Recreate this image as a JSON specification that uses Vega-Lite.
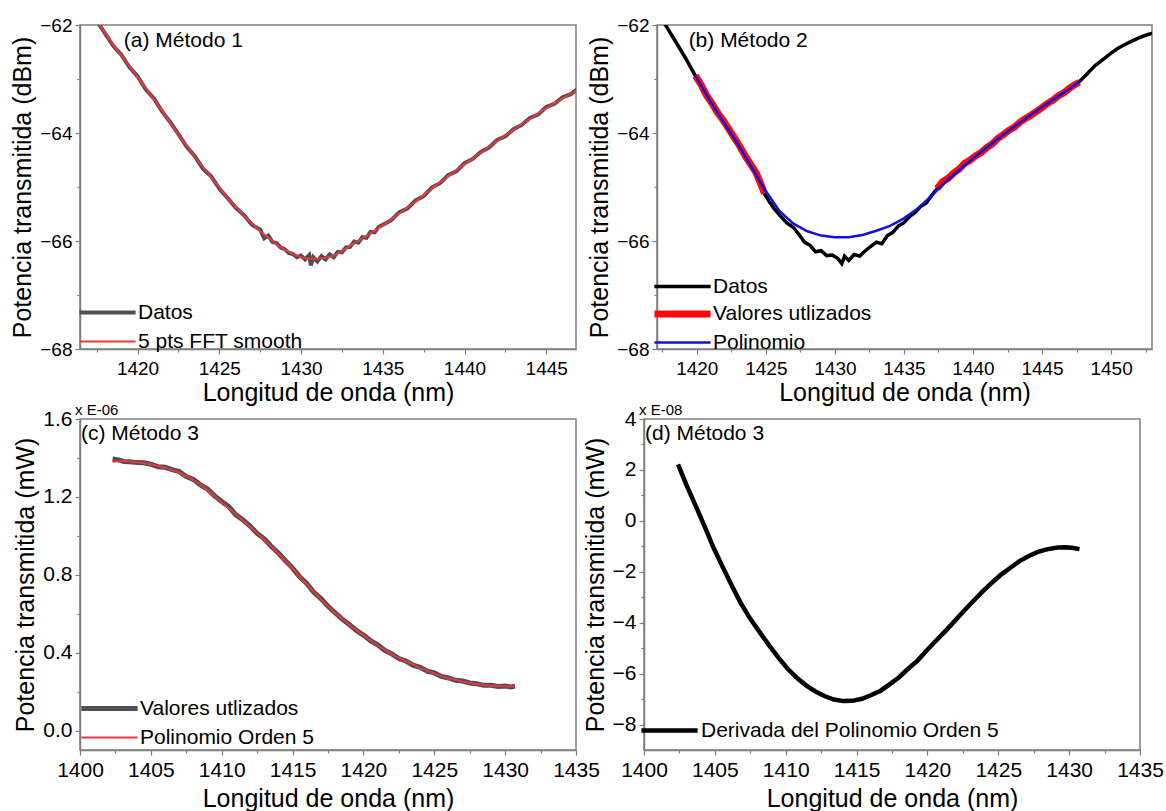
{
  "$schema": "https://vega.github.io/schema/vega-lite/v6.json",
  "padding": {"left": 10, "top": 15, "right": 5, "bottom": 5},
  "config": {
    "font": "Liberation Sans",
    "view": {"stroke": "#7f7f7f", "strokeWidth": 1.5},
    "title": {"font": "Liberation Sans", "fontSize": 15, "fontWeight": "normal", "color": "#000000"},
    "axis": {"grid": false, "domainColor": "#7f7f7f", "domainWidth": 1.5, "tickColor": "#7f7f7f", "tickWidth": 1.2, "labelFont": "Liberation Sans", "titleFont": "Liberation Sans", "titleFontWeight": "normal", "labelColor": "#000000", "titleColor": "#000000", "labelFlush": false, "labelOverlap": false, "titleFontSize": 25},
    "legend": {"labelFont": "Liberation Sans", "labelFontSize": 21, "symbolType": "stroke", "padding": 0, "rowPadding": 7, "labelOffset": 20, "symbolSize": 3160, "labelColor": "#000000", "labelLimit": 600},
    "text": {"font": "Liberation Sans", "fontSize": 21, "color": "#000000"}
  },
  "datasets": {
    "a_dat": [
      {"x":1417.5,"y":-61.92,"s":"Datos"},{"x":1418.0,"y":-62.15,"s":"Datos"},{"x":1418.5,"y":-62.38,"s":"Datos"},{"x":1419.0,"y":-62.55,"s":"Datos"},{"x":1419.5,"y":-62.78,"s":"Datos"},{"x":1420.0,"y":-62.95,"s":"Datos"},{"x":1420.5,"y":-63.19,"s":"Datos"},{"x":1421.0,"y":-63.36,"s":"Datos"},{"x":1421.5,"y":-63.6,"s":"Datos"},{"x":1422.0,"y":-63.8,"s":"Datos"},{"x":1422.5,"y":-64.02,"s":"Datos"},{"x":1423.0,"y":-64.25,"s":"Datos"},{"x":1423.5,"y":-64.43,"s":"Datos"},{"x":1424.0,"y":-64.66,"s":"Datos"},{"x":1424.5,"y":-64.8,"s":"Datos"},{"x":1425.0,"y":-65.03,"s":"Datos"},{"x":1425.5,"y":-65.2,"s":"Datos"},{"x":1426.0,"y":-65.38,"s":"Datos"},{"x":1426.5,"y":-65.52,"s":"Datos"},{"x":1427.0,"y":-65.7,"s":"Datos"},{"x":1427.5,"y":-65.79,"s":"Datos"},{"x":1427.75,"y":-65.95,"s":"Datos"},{"x":1428.0,"y":-65.9,"s":"Datos"},{"x":1428.25,"y":-66.02,"s":"Datos"},{"x":1428.5,"y":-66.04,"s":"Datos"},{"x":1428.75,"y":-66.12,"s":"Datos"},{"x":1429.0,"y":-66.15,"s":"Datos"},{"x":1429.25,"y":-66.22,"s":"Datos"},{"x":1429.5,"y":-66.24,"s":"Datos"},{"x":1429.75,"y":-66.3,"s":"Datos"},{"x":1430.0,"y":-66.27,"s":"Datos"},{"x":1430.25,"y":-66.34,"s":"Datos"},{"x":1430.5,"y":-66.26,"s":"Datos"},{"x":1430.6,"y":-66.45,"s":"Datos"},{"x":1430.75,"y":-66.3,"s":"Datos"},{"x":1431.0,"y":-66.38,"s":"Datos"},{"x":1431.25,"y":-66.28,"s":"Datos"},{"x":1431.5,"y":-66.34,"s":"Datos"},{"x":1431.75,"y":-66.25,"s":"Datos"},{"x":1432.0,"y":-66.3,"s":"Datos"},{"x":1432.25,"y":-66.2,"s":"Datos"},{"x":1432.5,"y":-66.21,"s":"Datos"},{"x":1432.75,"y":-66.12,"s":"Datos"},{"x":1433.0,"y":-66.11,"s":"Datos"},{"x":1433.25,"y":-66.01,"s":"Datos"},{"x":1433.5,"y":-66.03,"s":"Datos"},{"x":1433.75,"y":-65.93,"s":"Datos"},{"x":1434.0,"y":-65.94,"s":"Datos"},{"x":1434.25,"y":-65.83,"s":"Datos"},{"x":1434.5,"y":-65.84,"s":"Datos"},{"x":1434.75,"y":-65.74,"s":"Datos"},{"x":1435.0,"y":-65.7,"s":"Datos"},{"x":1435.5,"y":-65.62,"s":"Datos"},{"x":1436.0,"y":-65.47,"s":"Datos"},{"x":1436.5,"y":-65.4,"s":"Datos"},{"x":1437.0,"y":-65.25,"s":"Datos"},{"x":1437.5,"y":-65.17,"s":"Datos"},{"x":1438.0,"y":-65.01,"s":"Datos"},{"x":1438.5,"y":-64.93,"s":"Datos"},{"x":1439.0,"y":-64.78,"s":"Datos"},{"x":1439.5,"y":-64.71,"s":"Datos"},{"x":1440.0,"y":-64.56,"s":"Datos"},{"x":1440.5,"y":-64.48,"s":"Datos"},{"x":1441.0,"y":-64.35,"s":"Datos"},{"x":1441.5,"y":-64.27,"s":"Datos"},{"x":1442.0,"y":-64.13,"s":"Datos"},{"x":1442.5,"y":-64.06,"s":"Datos"},{"x":1443.0,"y":-63.93,"s":"Datos"},{"x":1443.5,"y":-63.85,"s":"Datos"},{"x":1444.0,"y":-63.72,"s":"Datos"},{"x":1444.5,"y":-63.66,"s":"Datos"},{"x":1445.0,"y":-63.52,"s":"Datos"},{"x":1445.5,"y":-63.46,"s":"Datos"},{"x":1446.0,"y":-63.34,"s":"Datos"},{"x":1446.5,"y":-63.28,"s":"Datos"},{"x":1447.0,"y":-63.17,"s":"Datos"}
    ],
    "a_smo": [
      {"x":1417.5,"y":-61.92,"s":"5 pts FFT smooth"},{"x":1418.5,"y":-62.36,"s":"5 pts FFT smooth"},{"x":1419.5,"y":-62.76,"s":"5 pts FFT smooth"},{"x":1420.5,"y":-63.17,"s":"5 pts FFT smooth"},{"x":1421.5,"y":-63.58,"s":"5 pts FFT smooth"},{"x":1422.5,"y":-64.03,"s":"5 pts FFT smooth"},{"x":1423.5,"y":-64.44,"s":"5 pts FFT smooth"},{"x":1424.5,"y":-64.82,"s":"5 pts FFT smooth"},{"x":1425.5,"y":-65.2,"s":"5 pts FFT smooth"},{"x":1426.5,"y":-65.53,"s":"5 pts FFT smooth"},{"x":1427.5,"y":-65.82,"s":"5 pts FFT smooth"},{"x":1428.5,"y":-66.06,"s":"5 pts FFT smooth"},{"x":1429.0,"y":-66.16,"s":"5 pts FFT smooth"},{"x":1429.5,"y":-66.24,"s":"5 pts FFT smooth"},{"x":1430.0,"y":-66.3,"s":"5 pts FFT smooth"},{"x":1430.5,"y":-66.33,"s":"5 pts FFT smooth"},{"x":1431.0,"y":-66.33,"s":"5 pts FFT smooth"},{"x":1431.5,"y":-66.31,"s":"5 pts FFT smooth"},{"x":1432.0,"y":-66.27,"s":"5 pts FFT smooth"},{"x":1432.5,"y":-66.19,"s":"5 pts FFT smooth"},{"x":1433.0,"y":-66.09,"s":"5 pts FFT smooth"},{"x":1433.5,"y":-66.0,"s":"5 pts FFT smooth"},{"x":1434.0,"y":-65.91,"s":"5 pts FFT smooth"},{"x":1434.5,"y":-65.81,"s":"5 pts FFT smooth"},{"x":1435.0,"y":-65.71,"s":"5 pts FFT smooth"},{"x":1435.5,"y":-65.6,"s":"5 pts FFT smooth"},{"x":1436.0,"y":-65.49,"s":"5 pts FFT smooth"},{"x":1437.0,"y":-65.27,"s":"5 pts FFT smooth"},{"x":1438.0,"y":-65.03,"s":"5 pts FFT smooth"},{"x":1439.0,"y":-64.8,"s":"5 pts FFT smooth"},{"x":1440.0,"y":-64.58,"s":"5 pts FFT smooth"},{"x":1441.0,"y":-64.36,"s":"5 pts FFT smooth"},{"x":1442.0,"y":-64.15,"s":"5 pts FFT smooth"},{"x":1443.0,"y":-63.94,"s":"5 pts FFT smooth"},{"x":1444.0,"y":-63.74,"s":"5 pts FFT smooth"},{"x":1445.0,"y":-63.54,"s":"5 pts FFT smooth"},{"x":1446.0,"y":-63.36,"s":"5 pts FFT smooth"},{"x":1447.0,"y":-63.19,"s":"5 pts FFT smooth"}
    ],
    "b_dat": [
      {"x":1417.5,"y":-61.85,"s":"Datos"},{"x":1417.73,"y":-62.0,"s":"Datos"},{"x":1418.5,"y":-62.32,"s":"Datos"},{"x":1419.2,"y":-62.62,"s":"Datos"},{"x":1419.9,"y":-62.94,"s":"Datos"},{"x":1420.5,"y":-63.18,"s":"Datos"},{"x":1421.0,"y":-63.42,"s":"Datos"},{"x":1421.5,"y":-63.6,"s":"Datos"},{"x":1422.0,"y":-63.8,"s":"Datos"},{"x":1422.5,"y":-63.99,"s":"Datos"},{"x":1423.0,"y":-64.2,"s":"Datos"},{"x":1423.5,"y":-64.4,"s":"Datos"},{"x":1424.0,"y":-64.62,"s":"Datos"},{"x":1424.5,"y":-64.93,"s":"Datos"},{"x":1424.8,"y":-65.08,"s":"Datos"},{"x":1425.2,"y":-65.25,"s":"Datos"},{"x":1425.6,"y":-65.4,"s":"Datos"},{"x":1426.0,"y":-65.52,"s":"Datos"},{"x":1426.5,"y":-65.66,"s":"Datos"},{"x":1427.0,"y":-65.75,"s":"Datos"},{"x":1427.4,"y":-65.88,"s":"Datos"},{"x":1427.8,"y":-66.02,"s":"Datos"},{"x":1428.2,"y":-66.08,"s":"Datos"},{"x":1428.6,"y":-66.2,"s":"Datos"},{"x":1429.0,"y":-66.18,"s":"Datos"},{"x":1429.4,"y":-66.27,"s":"Datos"},{"x":1429.8,"y":-66.26,"s":"Datos"},{"x":1430.2,"y":-66.32,"s":"Datos"},{"x":1430.5,"y":-66.42,"s":"Datos"},{"x":1430.7,"y":-66.28,"s":"Datos"},{"x":1431.0,"y":-66.36,"s":"Datos"},{"x":1431.4,"y":-66.25,"s":"Datos"},{"x":1431.8,"y":-66.28,"s":"Datos"},{"x":1432.2,"y":-66.18,"s":"Datos"},{"x":1432.6,"y":-66.1,"s":"Datos"},{"x":1433.0,"y":-66.02,"s":"Datos"},{"x":1433.4,"y":-66.05,"s":"Datos"},{"x":1433.8,"y":-65.9,"s":"Datos"},{"x":1434.2,"y":-65.84,"s":"Datos"},{"x":1434.6,"y":-65.72,"s":"Datos"},{"x":1435.0,"y":-65.66,"s":"Datos"},{"x":1435.4,"y":-65.55,"s":"Datos"},{"x":1435.8,"y":-65.47,"s":"Datos"},{"x":1436.2,"y":-65.36,"s":"Datos"},{"x":1436.6,"y":-65.3,"s":"Datos"},{"x":1437.0,"y":-65.16,"s":"Datos"},{"x":1437.4,"y":-65.03,"s":"Datos"},{"x":1438.0,"y":-64.9,"s":"Datos"},{"x":1438.5,"y":-64.8,"s":"Datos"},{"x":1439.0,"y":-64.68,"s":"Datos"},{"x":1439.5,"y":-64.56,"s":"Datos"},{"x":1440.0,"y":-64.46,"s":"Datos"},{"x":1440.5,"y":-64.38,"s":"Datos"},{"x":1441.0,"y":-64.27,"s":"Datos"},{"x":1441.5,"y":-64.18,"s":"Datos"},{"x":1442.0,"y":-64.07,"s":"Datos"},{"x":1442.5,"y":-63.97,"s":"Datos"},{"x":1443.0,"y":-63.88,"s":"Datos"},{"x":1443.5,"y":-63.78,"s":"Datos"},{"x":1444.0,"y":-63.7,"s":"Datos"},{"x":1444.5,"y":-63.62,"s":"Datos"},{"x":1445.0,"y":-63.53,"s":"Datos"},{"x":1445.5,"y":-63.44,"s":"Datos"},{"x":1446.0,"y":-63.36,"s":"Datos"},{"x":1446.5,"y":-63.27,"s":"Datos"},{"x":1447.0,"y":-63.18,"s":"Datos"},{"x":1447.7,"y":-63.05,"s":"Datos"},{"x":1448.2,"y":-62.92,"s":"Datos"},{"x":1448.8,"y":-62.76,"s":"Datos"},{"x":1449.4,"y":-62.64,"s":"Datos"},{"x":1450.0,"y":-62.52,"s":"Datos"},{"x":1450.5,"y":-62.43,"s":"Datos"},{"x":1451.0,"y":-62.36,"s":"Datos"},{"x":1451.5,"y":-62.3,"s":"Datos"},{"x":1452.0,"y":-62.24,"s":"Datos"},{"x":1452.5,"y":-62.19,"s":"Datos"},{"x":1453.0,"y":-62.15,"s":"Datos"}
    ],
    "b_val": [
      {"x":1419.9,"y":-62.94,"s":"Valores utlizados","g":1},{"x":1420.3,"y":-63.1,"s":"Valores utlizados","g":1},{"x":1420.7,"y":-63.3,"s":"Valores utlizados","g":1},{"x":1421.1,"y":-63.45,"s":"Valores utlizados","g":1},{"x":1421.5,"y":-63.62,"s":"Valores utlizados","g":1},{"x":1421.9,"y":-63.76,"s":"Valores utlizados","g":1},{"x":1422.3,"y":-63.92,"s":"Valores utlizados","g":1},{"x":1422.7,"y":-64.08,"s":"Valores utlizados","g":1},{"x":1423.1,"y":-64.24,"s":"Valores utlizados","g":1},{"x":1423.5,"y":-64.42,"s":"Valores utlizados","g":1},{"x":1423.9,"y":-64.58,"s":"Valores utlizados","g":1},{"x":1424.3,"y":-64.74,"s":"Valores utlizados","g":1},{"x":1424.6,"y":-64.92,"s":"Valores utlizados","g":1},{"x":1424.9,"y":-65.12,"s":"Valores utlizados","g":1},
      {"x":1437.4,"y":-65.03,"s":"Valores utlizados","g":2},{"x":1437.8,"y":-64.9,"s":"Valores utlizados","g":2},{"x":1438.2,"y":-64.84,"s":"Valores utlizados","g":2},{"x":1438.6,"y":-64.74,"s":"Valores utlizados","g":2},{"x":1439.0,"y":-64.67,"s":"Valores utlizados","g":2},{"x":1439.4,"y":-64.56,"s":"Valores utlizados","g":2},{"x":1439.8,"y":-64.5,"s":"Valores utlizados","g":2},{"x":1440.2,"y":-64.42,"s":"Valores utlizados","g":2},{"x":1440.6,"y":-64.36,"s":"Valores utlizados","g":2},{"x":1441.0,"y":-64.27,"s":"Valores utlizados","g":2},{"x":1441.4,"y":-64.2,"s":"Valores utlizados","g":2},{"x":1441.8,"y":-64.1,"s":"Valores utlizados","g":2},{"x":1442.2,"y":-64.03,"s":"Valores utlizados","g":2},{"x":1442.6,"y":-63.95,"s":"Valores utlizados","g":2},{"x":1443.0,"y":-63.89,"s":"Valores utlizados","g":2},{"x":1443.4,"y":-63.8,"s":"Valores utlizados","g":2},{"x":1443.8,"y":-63.73,"s":"Valores utlizados","g":2},{"x":1444.2,"y":-63.67,"s":"Valores utlizados","g":2},{"x":1444.6,"y":-63.6,"s":"Valores utlizados","g":2},{"x":1445.0,"y":-63.53,"s":"Valores utlizados","g":2},{"x":1445.4,"y":-63.45,"s":"Valores utlizados","g":2},{"x":1445.8,"y":-63.39,"s":"Valores utlizados","g":2},{"x":1446.2,"y":-63.31,"s":"Valores utlizados","g":2},{"x":1446.6,"y":-63.25,"s":"Valores utlizados","g":2},{"x":1447.0,"y":-63.17,"s":"Valores utlizados","g":2},{"x":1447.4,"y":-63.1,"s":"Valores utlizados","g":2},{"x":1447.7,"y":-63.06,"s":"Valores utlizados","g":2}
    ],
    "b_pol": [
      {"x":1419.9,"y":-62.94,"s":"Polinomio"},{"x":1421,"y":-63.42,"s":"Polinomio"},{"x":1422,"y":-63.82,"s":"Polinomio"},{"x":1423,"y":-64.22,"s":"Polinomio"},{"x":1424,"y":-64.64,"s":"Polinomio"},{"x":1425,"y":-65.08,"s":"Polinomio"},{"x":1426,"y":-65.45,"s":"Polinomio"},{"x":1427,"y":-65.68,"s":"Polinomio"},{"x":1428,"y":-65.82,"s":"Polinomio"},{"x":1429,"y":-65.9,"s":"Polinomio"},{"x":1430,"y":-65.93,"s":"Polinomio"},{"x":1431,"y":-65.93,"s":"Polinomio"},{"x":1432,"y":-65.89,"s":"Polinomio"},{"x":1433,"y":-65.81,"s":"Polinomio"},{"x":1434,"y":-65.72,"s":"Polinomio"},{"x":1435,"y":-65.58,"s":"Polinomio"},{"x":1436,"y":-65.4,"s":"Polinomio"},{"x":1437,"y":-65.16,"s":"Polinomio"},{"x":1438,"y":-64.91,"s":"Polinomio"},{"x":1439,"y":-64.69,"s":"Polinomio"},{"x":1440,"y":-64.47,"s":"Polinomio"},{"x":1441,"y":-64.27,"s":"Polinomio"},{"x":1442,"y":-64.07,"s":"Polinomio"},{"x":1443,"y":-63.88,"s":"Polinomio"},{"x":1444,"y":-63.7,"s":"Polinomio"},{"x":1445,"y":-63.52,"s":"Polinomio"},{"x":1446,"y":-63.35,"s":"Polinomio"},{"x":1447,"y":-63.18,"s":"Polinomio"},{"x":1447.7,"y":-63.05,"s":"Polinomio"}
    ],
    "c_val": [
      {"x":1402.3,"y":1.395,"s":"Valores utlizados"},{"x":1402.7,"y":1.39,"s":"Valores utlizados"},{"x":1403.1,"y":1.382,"s":"Valores utlizados"},{"x":1403.5,"y":1.38,"s":"Valores utlizados"},{"x":1404.0,"y":1.376,"s":"Valores utlizados"},{"x":1404.5,"y":1.375,"s":"Valores utlizados"},{"x":1405.0,"y":1.368,"s":"Valores utlizados"},{"x":1405.5,"y":1.355,"s":"Valores utlizados"},{"x":1406.0,"y":1.352,"s":"Valores utlizados"},{"x":1406.5,"y":1.34,"s":"Valores utlizados"},{"x":1407.0,"y":1.33,"s":"Valores utlizados"},{"x":1407.5,"y":1.305,"s":"Valores utlizados"},{"x":1408.0,"y":1.29,"s":"Valores utlizados"},{"x":1408.5,"y":1.262,"s":"Valores utlizados"},{"x":1409.0,"y":1.24,"s":"Valores utlizados"},{"x":1409.5,"y":1.205,"s":"Valores utlizados"},{"x":1410.0,"y":1.176,"s":"Valores utlizados"},{"x":1410.5,"y":1.15,"s":"Valores utlizados"},{"x":1411.0,"y":1.108,"s":"Valores utlizados"},{"x":1411.5,"y":1.082,"s":"Valores utlizados"},{"x":1412.0,"y":1.05,"s":"Valores utlizados"},{"x":1412.5,"y":1.012,"s":"Valores utlizados"},{"x":1413.0,"y":0.985,"s":"Valores utlizados"},{"x":1413.5,"y":0.945,"s":"Valores utlizados"},{"x":1414.0,"y":0.912,"s":"Valores utlizados"},{"x":1414.5,"y":0.872,"s":"Valores utlizados"},{"x":1415.0,"y":0.834,"s":"Valores utlizados"},{"x":1415.5,"y":0.79,"s":"Valores utlizados"},{"x":1416.0,"y":0.755,"s":"Valores utlizados"},{"x":1416.5,"y":0.71,"s":"Valores utlizados"},{"x":1417.0,"y":0.678,"s":"Valores utlizados"},{"x":1417.5,"y":0.638,"s":"Valores utlizados"},{"x":1418.0,"y":0.605,"s":"Valores utlizados"},{"x":1418.5,"y":0.572,"s":"Valores utlizados"},{"x":1419.0,"y":0.545,"s":"Valores utlizados"},{"x":1419.5,"y":0.514,"s":"Valores utlizados"},{"x":1420.0,"y":0.49,"s":"Valores utlizados"},{"x":1420.5,"y":0.462,"s":"Valores utlizados"},{"x":1421.0,"y":0.44,"s":"Valores utlizados"},{"x":1421.5,"y":0.412,"s":"Valores utlizados"},{"x":1422.0,"y":0.394,"s":"Valores utlizados"},{"x":1422.5,"y":0.37,"s":"Valores utlizados"},{"x":1423.0,"y":0.357,"s":"Valores utlizados"},{"x":1423.5,"y":0.336,"s":"Valores utlizados"},{"x":1424.0,"y":0.325,"s":"Valores utlizados"},{"x":1424.5,"y":0.305,"s":"Valores utlizados"},{"x":1425.0,"y":0.296,"s":"Valores utlizados"},{"x":1425.5,"y":0.278,"s":"Valores utlizados"},{"x":1426.0,"y":0.27,"s":"Valores utlizados"},{"x":1426.5,"y":0.258,"s":"Valores utlizados"},{"x":1427.0,"y":0.254,"s":"Valores utlizados"},{"x":1427.5,"y":0.244,"s":"Valores utlizados"},{"x":1428.0,"y":0.24,"s":"Valores utlizados"},{"x":1428.5,"y":0.232,"s":"Valores utlizados"},{"x":1429.0,"y":0.232,"s":"Valores utlizados"},{"x":1429.5,"y":0.226,"s":"Valores utlizados"},{"x":1430.0,"y":0.229,"s":"Valores utlizados"},{"x":1430.4,"y":0.224,"s":"Valores utlizados"},{"x":1430.7,"y":0.228,"s":"Valores utlizados"}
    ],
    "c_pol": [
      {"x":1402.3,"y":1.38,"s":"Polinomio Orden 5"},{"x":1403.0,"y":1.385,"s":"Polinomio Orden 5"},{"x":1404.0,"y":1.378,"s":"Polinomio Orden 5"},{"x":1405.0,"y":1.368,"s":"Polinomio Orden 5"},{"x":1406.0,"y":1.35,"s":"Polinomio Orden 5"},{"x":1407.0,"y":1.325,"s":"Polinomio Orden 5"},{"x":1408.0,"y":1.288,"s":"Polinomio Orden 5"},{"x":1409.0,"y":1.236,"s":"Polinomio Orden 5"},{"x":1410.0,"y":1.173,"s":"Polinomio Orden 5"},{"x":1411.0,"y":1.111,"s":"Polinomio Orden 5"},{"x":1412.0,"y":1.047,"s":"Polinomio Orden 5"},{"x":1413.0,"y":0.981,"s":"Polinomio Orden 5"},{"x":1414.0,"y":0.909,"s":"Polinomio Orden 5"},{"x":1415.0,"y":0.831,"s":"Polinomio Orden 5"},{"x":1416.0,"y":0.752,"s":"Polinomio Orden 5"},{"x":1417.0,"y":0.675,"s":"Polinomio Orden 5"},{"x":1418.0,"y":0.603,"s":"Polinomio Orden 5"},{"x":1419.0,"y":0.543,"s":"Polinomio Orden 5"},{"x":1420.0,"y":0.489,"s":"Polinomio Orden 5"},{"x":1421.0,"y":0.438,"s":"Polinomio Orden 5"},{"x":1422.0,"y":0.392,"s":"Polinomio Orden 5"},{"x":1423.0,"y":0.355,"s":"Polinomio Orden 5"},{"x":1424.0,"y":0.322,"s":"Polinomio Orden 5"},{"x":1425.0,"y":0.293,"s":"Polinomio Orden 5"},{"x":1426.0,"y":0.268,"s":"Polinomio Orden 5"},{"x":1427.0,"y":0.252,"s":"Polinomio Orden 5"},{"x":1428.0,"y":0.238,"s":"Polinomio Orden 5"},{"x":1429.0,"y":0.23,"s":"Polinomio Orden 5"},{"x":1430.0,"y":0.227,"s":"Polinomio Orden 5"},{"x":1430.7,"y":0.226,"s":"Polinomio Orden 5"}
    ],
    "d_der": [
      {"x":1402.4,"y":2.22,"s":"Derivada del Polinomio Orden 5"},{"x":1403.0,"y":1.4,"s":"Derivada del Polinomio Orden 5"},{"x":1403.6,"y":0.65,"s":"Derivada del Polinomio Orden 5"},{"x":1404.3,"y":-0.25,"s":"Derivada del Polinomio Orden 5"},{"x":1404.9,"y":-1.05,"s":"Derivada del Polinomio Orden 5"},{"x":1405.5,"y":-1.75,"s":"Derivada del Polinomio Orden 5"},{"x":1406.2,"y":-2.55,"s":"Derivada del Polinomio Orden 5"},{"x":1406.8,"y":-3.2,"s":"Derivada del Polinomio Orden 5"},{"x":1407.5,"y":-3.85,"s":"Derivada del Polinomio Orden 5"},{"x":1408.2,"y":-4.4,"s":"Derivada del Polinomio Orden 5"},{"x":1408.84,"y":-4.9,"s":"Derivada del Polinomio Orden 5"},{"x":1409.5,"y":-5.38,"s":"Derivada del Polinomio Orden 5"},{"x":1410.15,"y":-5.82,"s":"Derivada del Polinomio Orden 5"},{"x":1410.8,"y":-6.17,"s":"Derivada del Polinomio Orden 5"},{"x":1411.46,"y":-6.47,"s":"Derivada del Polinomio Orden 5"},{"x":1412.1,"y":-6.7,"s":"Derivada del Polinomio Orden 5"},{"x":1412.77,"y":-6.89,"s":"Derivada del Polinomio Orden 5"},{"x":1413.4,"y":-7.02,"s":"Derivada del Polinomio Orden 5"},{"x":1414.08,"y":-7.08,"s":"Derivada del Polinomio Orden 5"},{"x":1414.7,"y":-7.07,"s":"Derivada del Polinomio Orden 5"},{"x":1415.39,"y":-6.99,"s":"Derivada del Polinomio Orden 5"},{"x":1416.0,"y":-6.85,"s":"Derivada del Polinomio Orden 5"},{"x":1416.7,"y":-6.67,"s":"Derivada del Polinomio Orden 5"},{"x":1417.3,"y":-6.43,"s":"Derivada del Polinomio Orden 5"},{"x":1418.0,"y":-6.14,"s":"Derivada del Polinomio Orden 5"},{"x":1418.6,"y":-5.83,"s":"Derivada del Polinomio Orden 5"},{"x":1419.3,"y":-5.49,"s":"Derivada del Polinomio Orden 5"},{"x":1419.9,"y":-5.12,"s":"Derivada del Polinomio Orden 5"},{"x":1420.6,"y":-4.71,"s":"Derivada del Polinomio Orden 5"},{"x":1421.3,"y":-4.31,"s":"Derivada del Polinomio Orden 5"},{"x":1421.95,"y":-3.92,"s":"Derivada del Polinomio Orden 5"},{"x":1422.6,"y":-3.52,"s":"Derivada del Polinomio Orden 5"},{"x":1423.26,"y":-3.14,"s":"Derivada del Polinomio Orden 5"},{"x":1423.9,"y":-2.77,"s":"Derivada del Polinomio Orden 5"},{"x":1424.57,"y":-2.42,"s":"Derivada del Polinomio Orden 5"},{"x":1425.2,"y":-2.11,"s":"Derivada del Polinomio Orden 5"},{"x":1425.88,"y":-1.83,"s":"Derivada del Polinomio Orden 5"},{"x":1426.5,"y":-1.58,"s":"Derivada del Polinomio Orden 5"},{"x":1427.19,"y":-1.37,"s":"Derivada del Polinomio Orden 5"},{"x":1427.8,"y":-1.22,"s":"Derivada del Polinomio Orden 5"},{"x":1428.5,"y":-1.11,"s":"Derivada del Polinomio Orden 5"},{"x":1429.2,"y":-1.05,"s":"Derivada del Polinomio Orden 5"},{"x":1429.81,"y":-1.04,"s":"Derivada del Polinomio Orden 5"},{"x":1430.3,"y":-1.07,"s":"Derivada del Polinomio Orden 5"},{"x":1430.73,"y":-1.11,"s":"Derivada del Polinomio Orden 5"}
    ]
  },
  "spacing": -4,
  "resolve": {"scale": {"color": "independent"}},
  "vconcat": [
    {
      "hconcat": [
        {
          "width": 496, "height": 324,
          "layer": [
            {
              "encoding": {
                "x": {"field": "x", "type": "quantitative", "scale": {"domain": [1416.48, 1446.82], "nice": false, "zero": false},
                  "axis": {"title": "Longitud de onda (nm)", "values": [1417.5,1420,1422.5,1425,1427.5,1430,1432.5,1435,1437.5,1440,1442.5,1445], "format": "d", "labelExpr": "datum.value % 5 == 0 ? datum.label : ''", "tickSize": {"condition": {"test": "datum.value % 5 != 0", "value": 3}, "value": 5}, "labelFontSize": 19, "labelPadding": 5, "titlePadding": 2}},
                "y": {"field": "y", "type": "quantitative", "scale": {"domain": [-68, -62], "nice": false, "zero": false},
                  "axis": {"title": "Potencia transmitida (dBm)", "values": [-68,-67,-66,-65,-64,-63,-62], "format": "d", "labelExpr": "datum.value % 2 == 0 ? datum.label : ''", "tickSize": {"condition": {"test": "datum.value % 2 != 0", "value": 3}, "value": 5}, "labelFontSize": 19, "labelPadding": 3, "titlePadding": 4}}
              },
              "layer": [
                {
                  "data": {"name": "a_dat"},
                  "mark": {"type": "line", "clip": true, "strokeWidth": 4},
                  "encoding": {
                    "color": {"field": "s", "type": "nominal", "scale": {"domain": ["Datos", "5 pts FFT smooth"], "range": ["#4f4f4f", "#e8373d"]},
                      "legend": {"title": null, "orient": "none", "legendX": 17, "legendY": 277,
                        "encode": {"symbols": {"update": {"strokeWidth": {"signal": "datum.value == 'Datos' ? 4 : 2"}}}}}}
                  }
                },
                {
                  "data": {"name": "a_smo"},
                  "mark": {"type": "line", "clip": true, "strokeWidth": 2},
                  "encoding": {"color": {"field": "s", "type": "nominal"}}
                }
              ]
            },
            {
              "data": {"values": [{"t": "(a) Método 1"}]},
              "mark": {"type": "text", "align": "left", "baseline": "middle", "fontSize": 21},
              "encoding": {
                "x": {"datum": 1419.16, "type": "quantitative", "scale": {"domain": [1416.48, 1446.82], "nice": false, "zero": false},
                  "axis": {"title": "Longitud de onda (nm)", "values": [1417.5,1420,1422.5,1425,1427.5,1430,1432.5,1435,1437.5,1440,1442.5,1445], "format": "d", "labelExpr": "datum.value % 5 == 0 ? datum.label : ''", "tickSize": {"condition": {"test": "datum.value % 5 != 0", "value": 3}, "value": 5}, "labelFontSize": 19, "labelPadding": 5, "titlePadding": 2}},
                "y": {"datum": -62.3, "type": "quantitative", "scale": {"domain": [-68, -62], "nice": false, "zero": false},
                  "axis": {"title": "Potencia transmitida (dBm)", "values": [-68,-67,-66,-65,-64,-63,-62], "format": "d", "labelExpr": "datum.value % 2 == 0 ? datum.label : ''", "tickSize": {"condition": {"test": "datum.value % 2 != 0", "value": 3}, "value": 5}, "labelFontSize": 19, "labelPadding": 3, "titlePadding": 4}},
                "text": {"field": "t"}
              }
            }
          ]
        },
        {
          "width": 495, "height": 324,
          "layer": [
            {
              "encoding": {
                "x": {"field": "x", "type": "quantitative", "scale": {"domain": [1417.12, 1452.96], "nice": false, "zero": false},
                  "axis": {"title": "Longitud de onda (nm)", "values": [1417.5,1420,1422.5,1425,1427.5,1430,1432.5,1435,1437.5,1440,1442.5,1445,1447.5,1450,1452.5], "format": "d", "labelExpr": "datum.value % 5 == 0 ? datum.label : ''", "tickSize": {"condition": {"test": "datum.value % 5 != 0", "value": 3}, "value": 5}, "labelFontSize": 19, "labelPadding": 5, "titlePadding": 2}},
                "y": {"field": "y", "type": "quantitative", "scale": {"domain": [-68, -62], "nice": false, "zero": false},
                  "axis": {"title": "Potencia transmitida (dBm)", "values": [-68,-67,-66,-65,-64,-63,-62], "format": "d", "labelExpr": "datum.value % 2 == 0 ? datum.label : ''", "tickSize": {"condition": {"test": "datum.value % 2 != 0", "value": 3}, "value": 5}, "labelFontSize": 19, "labelPadding": 3, "titlePadding": 4}}
              },
              "layer": [
                {
                  "data": {"name": "b_dat"},
                  "mark": {"type": "line", "clip": true, "strokeWidth": 3.5},
                  "encoding": {
                    "color": {"field": "s", "type": "nominal", "scale": {"domain": ["Datos", "Valores utlizados", "Polinomio"], "range": ["#000000", "#ff0a0a", "#1010e0"]},
                      "legend": {"title": null, "orient": "none", "legendX": 15, "legendY": 251, "rowPadding": 2.5,
                        "encode": {"symbols": {"update": {"strokeWidth": {"signal": "datum.value == 'Valores utlizados' ? 7 : datum.value == 'Datos' ? 3.5 : 2.5"}}}}}}
                  }
                },
                {
                  "data": {"name": "b_val"},
                  "mark": {"type": "line", "clip": true, "strokeWidth": 7},
                  "encoding": {
                    "detail": {"field": "g", "type": "nominal"},
                    "color": {"field": "s", "type": "nominal"}
                  }
                },
                {
                  "data": {"name": "b_pol"},
                  "mark": {"type": "line", "clip": true, "strokeWidth": 2.5},
                  "encoding": {"color": {"field": "s", "type": "nominal"}}
                }
              ]
            },
            {
              "data": {"values": [{"t": "(b) Método 2"}]},
              "mark": {"type": "text", "align": "left", "baseline": "middle", "fontSize": 21},
              "encoding": {
                "x": {"datum": 1419.41, "type": "quantitative", "scale": {"domain": [1417.12, 1452.96], "nice": false, "zero": false},
                  "axis": {"title": "Longitud de onda (nm)", "values": [1417.5,1420,1422.5,1425,1427.5,1430,1432.5,1435,1437.5,1440,1442.5,1445,1447.5,1450,1452.5], "format": "d", "labelExpr": "datum.value % 5 == 0 ? datum.label : ''", "tickSize": {"condition": {"test": "datum.value % 5 != 0", "value": 3}, "value": 5}, "labelFontSize": 19, "labelPadding": 5, "titlePadding": 2}},
                "y": {"datum": -62.3, "type": "quantitative", "scale": {"domain": [-68, -62], "nice": false, "zero": false},
                  "axis": {"title": "Potencia transmitida (dBm)", "values": [-68,-67,-66,-65,-64,-63,-62], "format": "d", "labelExpr": "datum.value % 2 == 0 ? datum.label : ''", "tickSize": {"condition": {"test": "datum.value % 2 != 0", "value": 3}, "value": 5}, "labelFontSize": 19, "labelPadding": 3, "titlePadding": 4}},
                "text": {"field": "t"}
              }
            }
          ]
        }
      ],
      "bounds": "flush",
      "spacing": 81,
      "resolve": {"scale": {"color": "independent"}}
    },
    {
      "hconcat": [
        {
          "width": 496, "height": 331,
          "title": {"text": "x E-06", "anchor": "start", "frame": "group", "fontSize": 15, "fontWeight": "normal", "font": "Liberation Sans", "offset": -10, "dx": -5, "color": "#000000"},
          "layer": [
            {
              "encoding": {
                "x": {"field": "x", "type": "quantitative", "scale": {"domain": [1400, 1435], "nice": false, "zero": false},
                  "axis": {"title": "Longitud de onda (nm)", "values": [1400,1402.5,1405,1407.5,1410,1412.5,1415,1417.5,1420,1422.5,1425,1427.5,1430,1432.5,1435], "format": "d", "labelExpr": "datum.value % 5 == 0 ? datum.label : ''", "tickSize": {"condition": {"test": "datum.value % 5 != 0", "value": 3}, "value": 5}, "labelFontSize": 21, "labelPadding": 4, "titlePadding": 6}},
                "y": {"field": "y", "type": "quantitative", "scale": {"domain": [-0.1, 1.6], "nice": false, "zero": false},
                  "axis": {"title": "Potencia transmitida (mW)", "values": [0,0.2,0.4,0.6,0.8,1.0,1.2,1.4,1.6], "format": ".1f", "labelExpr": "round(datum.value*10) % 4 == 0 ? datum.label : ''", "tickSize": {"condition": {"test": "round(datum.value*10) % 4 != 0", "value": 3}, "value": 5}, "labelFontSize": 21, "labelPadding": 3, "titlePadding": 4}}
              },
              "layer": [
                {
                  "data": {"name": "c_val"},
                  "mark": {"type": "line", "clip": true, "strokeWidth": 5},
                  "encoding": {
                    "color": {"field": "s", "type": "nominal", "scale": {"domain": ["Valores utlizados", "Polinomio Orden 5"], "range": ["#4f4f4f", "#e8373d"]},
                      "legend": {"title": null, "orient": "none", "legendX": 19, "legendY": 279, "labelOffset": 20,
                        "encode": {"symbols": {"update": {"strokeWidth": {"signal": "datum.value == 'Valores utlizados' ? 5 : 2"}}}}}}
                  }
                },
                {
                  "data": {"name": "c_pol"},
                  "mark": {"type": "line", "clip": true, "strokeWidth": 2},
                  "encoding": {"color": {"field": "s", "type": "nominal"}}
                }
              ]
            },
            {
              "data": {"values": [{"t": "(c) Método 3"}]},
              "mark": {"type": "text", "align": "left", "baseline": "middle", "fontSize": 21, "dx": 1},
              "encoding": {
                "x": {"datum": 1400, "type": "quantitative", "scale": {"domain": [1400, 1435], "nice": false, "zero": false},
                  "axis": {"title": "Longitud de onda (nm)", "values": [1400,1402.5,1405,1407.5,1410,1412.5,1415,1417.5,1420,1422.5,1425,1427.5,1430,1432.5,1435], "format": "d", "labelExpr": "datum.value % 5 == 0 ? datum.label : ''", "tickSize": {"condition": {"test": "datum.value % 5 != 0", "value": 3}, "value": 5}, "labelFontSize": 21, "labelPadding": 4, "titlePadding": 6}},
                "y": {"datum": 1.523, "type": "quantitative", "scale": {"domain": [-0.1, 1.6], "nice": false, "zero": false},
                  "axis": {"title": "Potencia transmitida (mW)", "values": [0,0.2,0.4,0.6,0.8,1.0,1.2,1.4,1.6], "format": ".1f", "labelExpr": "round(datum.value*10) % 4 == 0 ? datum.label : ''", "tickSize": {"condition": {"test": "round(datum.value*10) % 4 != 0", "value": 3}, "value": 5}, "labelFontSize": 21, "labelPadding": 3, "titlePadding": 4}},
                "text": {"field": "t"}
              }
            }
          ]
        },
        {
          "width": 496, "height": 331,
          "title": {"text": "x E-08", "anchor": "start", "frame": "group", "fontSize": 15, "fontWeight": "normal", "font": "Liberation Sans", "offset": -10, "dx": -5, "color": "#000000"},
          "layer": [
            {
              "encoding": {
                "x": {"field": "x", "type": "quantitative", "scale": {"domain": [1400, 1435], "nice": false, "zero": false},
                  "axis": {"title": "Longitud de onda (nm)", "values": [1400,1402.5,1405,1407.5,1410,1412.5,1415,1417.5,1420,1422.5,1425,1427.5,1430,1432.5,1435], "format": "d", "labelExpr": "datum.value % 5 == 0 ? datum.label : ''", "tickSize": {"condition": {"test": "datum.value % 5 != 0", "value": 3}, "value": 5}, "labelFontSize": 21, "labelPadding": 4, "titlePadding": 6}},
                "y": {"field": "y", "type": "quantitative", "scale": {"domain": [-9, 4], "nice": false, "zero": false},
                  "axis": {"title": "Potencia transmitida (mW)", "values": [-8,-7,-6,-5,-4,-3,-2,-1,0,1,2,3,4], "format": "d", "labelExpr": "datum.value % 2 == 0 ? datum.label : ''", "tickSize": {"condition": {"test": "datum.value % 2 != 0", "value": 3}, "value": 5}, "labelFontSize": 21, "labelPadding": 3, "titlePadding": 4}}
              },
              "layer": [
                {
                  "data": {"name": "d_der"},
                  "mark": {"type": "line", "clip": true, "strokeWidth": 4.5},
                  "encoding": {
                    "color": {"field": "s", "type": "nominal", "scale": {"domain": ["Derivada del Polinomio Orden 5"], "range": ["#000000"]},
                      "legend": {"title": null, "orient": "none", "legendX": -5, "legendY": 281, "symbolStrokeWidth": 4.5, "labelOffset": 1}}
                  }
                }
              ]
            },
            {
              "data": {"values": [{"t": "(d) Método 3"}]},
              "mark": {"type": "text", "align": "left", "baseline": "middle", "fontSize": 21, "dx": 1},
              "encoding": {
                "x": {"datum": 1400, "type": "quantitative", "scale": {"domain": [1400, 1435], "nice": false, "zero": false},
                  "axis": {"title": "Longitud de onda (nm)", "values": [1400,1402.5,1405,1407.5,1410,1412.5,1415,1417.5,1420,1422.5,1425,1427.5,1430,1432.5,1435], "format": "d", "labelExpr": "datum.value % 5 == 0 ? datum.label : ''", "tickSize": {"condition": {"test": "datum.value % 5 != 0", "value": 3}, "value": 5}, "labelFontSize": 21, "labelPadding": 4, "titlePadding": 6}},
                "y": {"datum": 3.41, "type": "quantitative", "scale": {"domain": [-9, 4], "nice": false, "zero": false},
                  "axis": {"title": "Potencia transmitida (mW)", "values": [-8,-7,-6,-5,-4,-3,-2,-1,0,1,2,3,4], "format": "d", "labelExpr": "datum.value % 2 == 0 ? datum.label : ''", "tickSize": {"condition": {"test": "datum.value % 2 != 0", "value": 3}, "value": 5}, "labelFontSize": 21, "labelPadding": 3, "titlePadding": 4}},
                "text": {"field": "t"}
              }
            }
          ]
        }
      ],
      "bounds": "flush",
      "spacing": 68,
      "resolve": {"scale": {"color": "independent"}}
    }
  ]
}
